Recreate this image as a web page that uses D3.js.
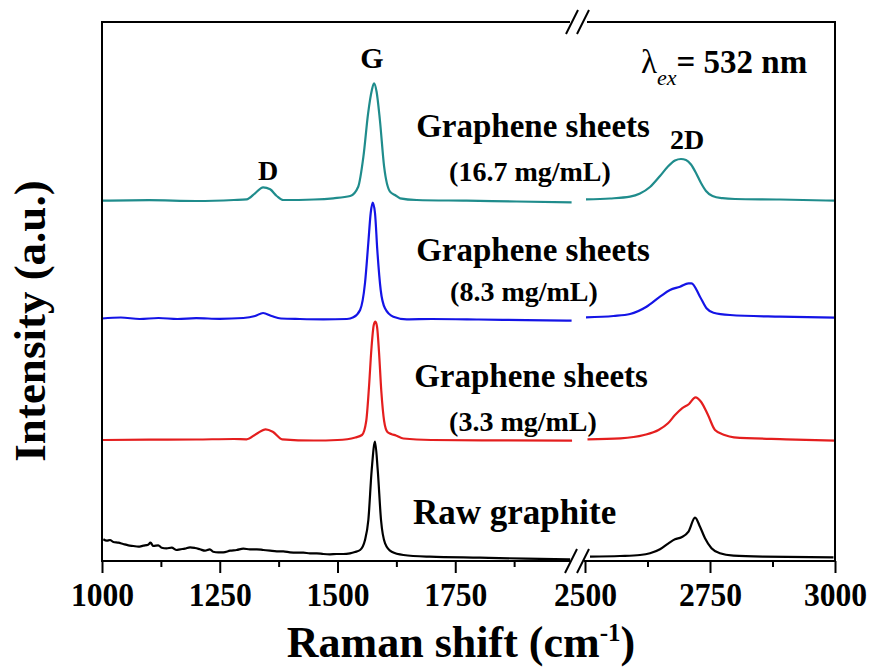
<!DOCTYPE html>
<html><head><meta charset="utf-8">
<script src="https://cdn.jsdelivr.net/npm/d3@7"></script>
<style>body{margin:0;background:#fff}svg{display:block}text{font-family:"Liberation Serif","Times New Roman",serif;font-weight:bold;fill:#000}</style>
</head><body><svg id="c" width="872" height="670"></svg>
<script>
// ---- data (Raman shift in cm^-1, intensity in a.u., already stacked) ----
const leftTicks = [1000, 1250, 1500, 1750];
const leftMinor = [1125, 1375, 1625, 1875];
const rightTicks = [2500, 2750, 3000];
const rightMinor = [2625, 2875];

const tealLeftX = [1000,1100,1200,1280,1307,1325,1342,1357,1371,1385,1450,1491,1527,1544,1555,1565,1573,1577.5,1583,1590,1599,1611.5,1622,1633,1668,1774,1880,1997];
const tealLeftY = [360.3,360.8,360,361,361.7,367.7,373.7,371.7,365,361,361.5,362.7,365,374.3,404.3,447.7,471,477.7,469.3,441,394.3,369.3,366,362.7,361,360.3,359.5,358.7];
const tealRightX = [2502,2550,2590,2610,2630,2650,2665,2680,2692,2702,2712,2722,2732,2742,2755,2775,2800,2890,3000];
const tealRightY = [361.7,362.5,364.3,367.5,374,385,394,400.5,402,401,396.5,388,378,370,365,362.8,362,361.5,360.3];

const blueLeftX = [1000,1040,1080,1120,1160,1200,1250,1300,1325,1342,1360,1380,1420,1470,1520,1533.7,1548,1558.4,1565.4,1570.5,1574.7,1579.6,1584.5,1591.7,1600.8,1618.5,1647,1700,1800,1900,1997];
const blueLeftY = [242.5,243.5,242,243,242,242.8,242.2,243,245,248,245,242.5,242,241.7,242,243.7,251,278,318,348,358.3,348,311,271,252.7,244.3,241.7,242,241.5,240.8,240.3];
const blueRightX = [2502,2557,2590,2623,2650,2670,2690,2707,2713,2730,2743,2757,2790,2890,3000];
const blueRightY = [243.7,245,247,254.3,264.3,271,274.3,277.7,277.7,264.3,252.7,248.3,246,244.3,243.3];

const redLeftX = [1000,1100,1200,1280,1307,1327.5,1347.5,1362.5,1382.6,1450,1500,1538,1552,1561,1567,1572,1577,1580.5,1584,1588,1593,1599,1606,1614,1624,1640,1699,1850,1998];
const redLeftY = [121,121.3,121.5,122,121.7,127,131.7,129.3,121.7,120.5,121,123.5,126,140,175,212,236,239.3,234,210,170,140,129,127,125.5,122.5,121,120.6,120.3];
const redRightX = [2505,2571,2618,2647,2666,2680,2694,2708,2721,2732,2746,2760,2779,2798,2902,3000];
const redRightY = [121.7,122.7,126,131,137.7,146,152.7,157,163.7,159.3,146,131,126,123.7,121.7,120.3];

const blackLeftX = [1002.8,1010,1017,1024,1034.6,1045,1056,1066.5,1077,1087.7,1098,1103,1109,1119.5,1126.7,1137,1148,1158.5,1165.6,1176,1187,1197.5,1208,1218.7,1229,1236,1247,1257.5,1272,1286,1300,1314,1328.5,1342.5,1356.7,1371,1385,1399,1413,1427.5,1441.6,1456,1470,1484,1498,1512,1526.5,1537,1548,1558.4,1565.5,1572.6,1579.6,1585.4,1592.4,1601,1615,1640,1696,1802.5,1900,1994];
const blackLeftY = [21.7,20.3,21,19,18.3,17,15.7,15,14.3,15.3,16.3,18.3,15,15.7,13.3,12.7,13.3,11,11.7,12.3,13.7,13,11.7,10.3,11.7,9.3,8.7,8.7,10.3,11,12.3,11.7,11.7,11,10.3,9.7,9.7,8.7,8.3,8.3,7.7,7.7,7,6.7,7,7,7.7,9,11,21,41,91,119.3,91,41,17.7,9.3,6,4.3,3.3,2.4,1.7];
const blackRightX = [2510,2570,2610,2630,2650,2667,2680,2693,2707,2720,2730,2740,2753,2770,2797,2857,2997];
const blackRightY = [4.3,5,6,7.7,11.7,17.7,21.7,23.7,29.3,43.3,34.3,22.7,12.7,7.7,5.3,4.3,3.7];

const series = [
  {name:"Graphene sheets (16.7 mg/mL)", color:"#1f8c8c", lx:tealLeftX, ly:tealLeftY, rx:tealRightX, ry:tealRightY},
  {name:"Graphene sheets (8.3 mg/mL)", color:"#1414e6", lx:blueLeftX, ly:blueLeftY, rx:blueRightX, ry:blueRightY},
  {name:"Graphene sheets (3.3 mg/mL)", color:"#e41e1e", lx:redLeftX, ly:redLeftY, rx:redRightX, ry:redRightY},
  {name:"Raw graphite", color:"#000000", lx:blackLeftX, ly:blackLeftY, rx:blackRightX, ry:blackRightY}
];

// ---- layout ----
const svg = d3.select("#c");
const L = 102, R = 835, T = 22, B = 561;
const xL = d3.scaleLinear().domain([1000, 2000]).range([L, 573]);
const xR = d3.scaleLinear().domain([2500, 3000]).range([585, R]);
const y = d3.scaleLinear().domain([0, 540]).range([B, B - 540]);

// spectra
series.forEach(s => {
  const lineL = d3.line().x(d => xL(d[0])).y(d => y(d[1])).curve(d3.curveMonotoneX);
  const lineR = d3.line().x(d => xR(d[0])).y(d => y(d[1])).curve(d3.curveMonotoneX);
  svg.append("path").attr("d", lineL(d3.zip(s.lx, s.ly))).attr("fill","none").attr("stroke", s.color).attr("stroke-width", 2.2).attr("stroke-linejoin","round");
  svg.append("path").attr("d", lineR(d3.zip(s.rx, s.ry))).attr("fill","none").attr("stroke", s.color).attr("stroke-width", 2.2).attr("stroke-linejoin","round");
});

// axes
function axis(scale, major, minor) {
  const g = svg.append("g").attr("transform", `translate(0,${B})`);
  g.call(d3.axisBottom(scale).tickValues(major).tickSize(12).tickSizeOuter(0).tickPadding(9).tickFormat(d3.format("d")));
  g.select(".domain").remove();
  g.selectAll(".tick line").attr("stroke","#000").attr("stroke-width",2);
  g.selectAll(".tick text").style("font-size","34px").style("font-family","'Liberation Serif',serif").style("font-weight","bold").attr("fill","#000").attr("transform","scale(0.93,1)");
  const m = svg.append("g").attr("transform", `translate(0,${B})`);
  m.call(d3.axisBottom(scale).tickValues(minor).tickSize(6).tickSizeOuter(0).tickFormat(""));
  m.select(".domain").remove();
  m.selectAll(".tick line").attr("stroke","#000").attr("stroke-width",2);
}
axis(xL, leftTicks, leftMinor);
axis(xR, rightTicks, rightMinor);

// frame with breaks
const fr = svg.append("g").attr("stroke","#000").attr("stroke-width",2).attr("fill","none");
fr.append("path").attr("d", `M570,${T}H${L}V${B}H570`);
fr.append("path").attr("d", `M587,${T}H${R}V${B}H584`);
[[572, T], [583, T], [571, B], [583, B]].forEach(([cx, cy]) => {
  fr.append("line").attr("x1", cx - 6).attr("y1", cy + 12).attr("x2", cx + 6).attr("y2", cy - 12);
});

// peak labels
svg.append("text").attr("x", 372).attr("y", 68).attr("text-anchor","middle").style("font-size","30px").text("G");
svg.append("text").attr("x", 268).attr("y", 180).attr("text-anchor","middle").style("font-size","28px").text("D");
svg.append("text").attr("x", 687).attr("y", 149).attr("text-anchor","middle").style("font-size","28px").text("2D");

const lab = [
  ["Graphene sheets", 533, 137, 33], ["(16.7 mg/mL)", 530, 181, 28],
  ["Graphene sheets", 533, 261, 33], ["(8.3 mg/mL)", 524, 301, 28],
  ["Graphene sheets", 531, 387, 33], ["(3.3 mg/mL)", 523, 431, 28]
];
lab.forEach(([t, x, yy, fs]) => svg.append("text").attr("x", x).attr("y", yy).attr("text-anchor","middle").style("font-size", fs + "px").text(t));
svg.append("text").attr("x", 413).attr("y", 524).style("font-size","35px").text("Raw graphite");

const lam = svg.append("text").attr("x", 641).attr("y", 73).style("font-size","33px");
lam.append("tspan").style("font-weight","normal").text("λ");
lam.append("tspan").attr("dy", 12).style("font-size","22px").style("font-style","italic").style("font-weight","normal").text("ex");
lam.append("tspan").attr("dy", -12).text("= 532");
lam.append("tspan").text(" nm");

// axis titles
const xt = svg.append("text").attr("x", 461).attr("y", 657).attr("text-anchor","middle").style("font-size","44px");
xt.append("tspan").text("Raman shift (cm");
xt.append("tspan").attr("dy", -16).style("font-size","25px").text("-1");
xt.append("tspan").attr("dy", 16).text(")");
svg.append("text").attr("transform","translate(45,321) rotate(-90)").attr("text-anchor","middle").style("font-size","45px").text("Intensity (a.u.)");
</script></body></html>
